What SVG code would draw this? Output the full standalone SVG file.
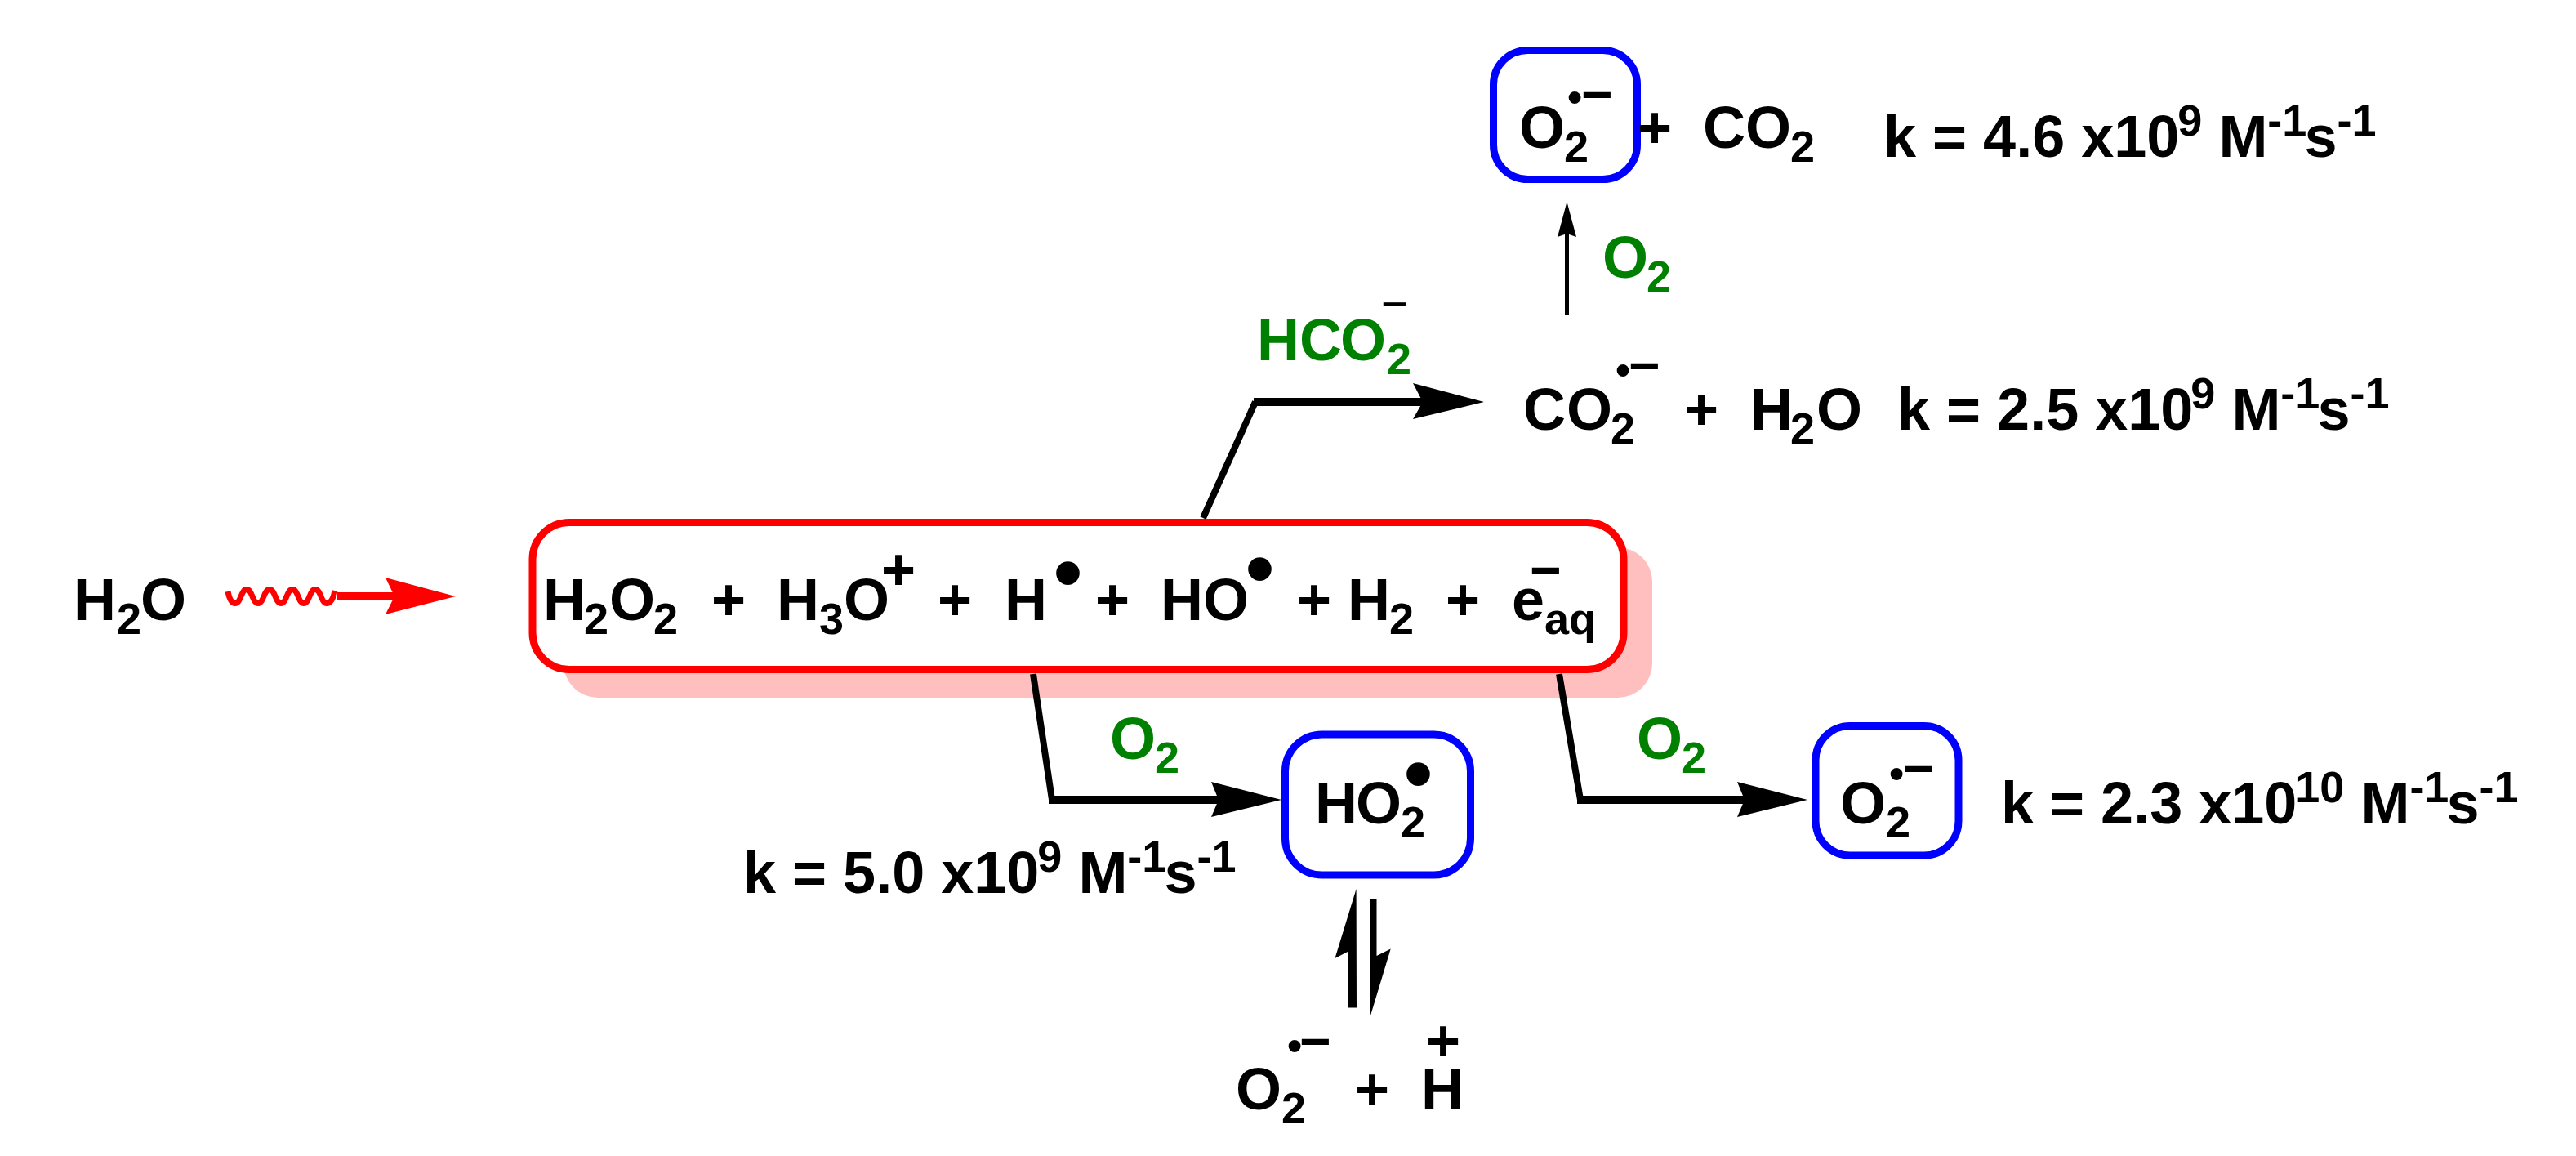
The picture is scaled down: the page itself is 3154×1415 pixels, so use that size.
<svg xmlns="http://www.w3.org/2000/svg" width="3154" height="1415" viewBox="0 0 3154 1415">
<style>
text{font-family:"Liberation Sans",Arial,sans-serif;font-weight:700;font-size:72px;fill:#000}
.s{font-size:54px}
.g{fill:#008000}
.bd{font-size:100px}
.sd{font-size:52px}
.m{font-size:66px}
.blue{fill:#fff;stroke:#00f;stroke-width:9}
.ln{fill:none;stroke:#000;stroke-linejoin:miter}
.hd{fill:#000}
</style>
<rect width="3154" height="1415" fill="#fff"/>
<g id="node-h2o">
<text x="90" y="759">H<tspan class="s" x="143" y="776">2</tspan><tspan x="172" y="759">O</tspan></text>
</g>
<g id="node-products">
<rect x="690" y="670" width="1333" height="184" rx="42" ry="42" fill="#ffbfbf"/>
<rect x="652" y="639.5" width="1336" height="180" rx="45" ry="45" fill="#fff" stroke="#f00" stroke-width="9"/>
<text x="665" y="759">H<tspan class="s" x="715" y="776">2</tspan><tspan x="746" y="759">O</tspan><tspan class="s" x="800" y="776">2</tspan><tspan x="871" y="759">+</tspan><tspan x="951" y="759">H</tspan><tspan class="s" x="1003" y="776">3</tspan><tspan x="1033" y="759">O</tspan><tspan x="1079" y="722">+</tspan><tspan x="1148" y="759">+</tspan><tspan x="1230" y="759">H</tspan><tspan x="1341" y="759">+</tspan><tspan x="1421" y="759">H</tspan><tspan x="1473" y="759">O</tspan><tspan x="1588" y="759">+</tspan><tspan x="1650" y="759">H</tspan><tspan class="s" x="1701" y="776">2</tspan><tspan x="1770" y="759">+</tspan><tspan x="1851" y="759">e</tspan><tspan class="s" x="1891" y="776">aq</tspan></text>
<text class="bd" x="1290" y="735">•</text>
<text class="bd" x="1525" y="730">•</text>
<text class="m" x="1873" y="720">−</text>
</g>
<g id="node-o2-top">
<rect class="blue" x="1828.5" y="61.5" width="176" height="158" rx="42" ry="42"/>
<text x="1860" y="181">O<tspan class="s" x="1915" y="198">2</tspan></text>
<text class="sd" x="1919" y="137">•</text>
<text class="m" x="1936" y="138">−</text>
</g>
<g id="node-co2-top">
<text x="2005" y="181">+</text>
<text x="2085" y="181">C<tspan x="2137">O</tspan><tspan class="s" x="2192" y="198">2</tspan></text>
<text x="2306" y="192">k = 4.6 x10<tspan class="s" dx="-2" dy="-26">9</tspan><tspan dy="26"> M</tspan><tspan class="s" dy="-26">-1</tspan><tspan dx="-3" dy="26">s</tspan><tspan class="s" dy="-26">-1</tspan></text>
</g>
<g id="node-co2-radical">
<text x="1865" y="526">C<tspan x="1918">O</tspan><tspan class="s" x="1972" y="543">2</tspan></text>
<text class="sd" x="1978" y="471">•</text>
<text class="m" x="1994" y="470">−</text>
<text x="2062" y="526">+</text>
<text x="2143" y="526">H<tspan class="s" x="2192" y="543">2</tspan><tspan x="2224" y="526">O</tspan></text>
<text x="2323" y="526">k = 2.5 x10<tspan class="s" dx="-3" dy="-26">9</tspan><tspan dy="26"> M</tspan><tspan class="s" dy="-26">-1</tspan><tspan dx="-3" dy="26">s</tspan><tspan class="s" dy="-26">-1</tspan></text>
</g>
<g id="node-ho2">
<rect class="blue" x="1573.5" y="899" width="227" height="172" rx="45" ry="45"/>
<text x="1610" y="1008">H<tspan x="1660">O</tspan><tspan class="s" x="1715" y="1025">2</tspan></text>
<text class="bd" x="1719" y="981">•</text>
<text x="910" y="1093">k = 5.0 x10<tspan class="s" dx="-2" dy="-26">9</tspan><tspan dy="26"> M</tspan><tspan class="s" dy="-26">-1</tspan><tspan dx="-3" dy="26">s</tspan><tspan class="s" dy="-26">-1</tspan></text>
</g>
<g id="node-o2-right">
<rect class="blue" x="2223" y="888.5" width="175" height="158.5" rx="42" ry="42"/>
<text x="2253" y="1008">O<tspan class="s" x="2309" y="1025">2</tspan></text>
<text class="sd" x="2313" y="965">•</text>
<text class="m" x="2330" y="963">−</text>
<text x="2450" y="1008">k = 2.3 x10<tspan class="s" dx="-2" dy="-26">10</tspan><tspan dy="26"> M</tspan><tspan class="s" dy="-26">-1</tspan><tspan dx="-3" dy="26">s</tspan><tspan class="s" dy="-26">-1</tspan></text>
</g>
<g id="node-o2-h">
<text x="1513" y="1358">O<tspan class="s" x="1569" y="1375">2</tspan></text>
<text class="sd" x="1576" y="1298">•</text>
<text class="m" x="1591" y="1297">−</text>
<text x="1659" y="1358">+</text>
<text x="1740" y="1358">H</text>
<text x="1746" y="1299">+</text>
</g>
<g id="labels">
<text class="g" x="1539" y="441">H<tspan x="1591">C</tspan><tspan x="1641">O</tspan><tspan class="s" x="1698" y="458">2</tspan></text>
<text x="1691" y="391" style="font-size:56px;font-weight:400">−</text>
<text class="g" x="1962" y="340">O<tspan class="s" x="2016" y="357">2</tspan></text>
<text class="g" x="1359" y="929">O<tspan class="s" x="1414" y="946">2</tspan></text>
<text class="g" x="2004" y="929">O<tspan class="s" x="2059" y="946">2</tspan></text>
</g>
<g id="connectors">
<path d="M279 724C281 734 284 738.500 288 738.500C295 738.500 295 721.500 302 721.500C309 721.500 309 738.500 316 738.500C323 738.500 323 721.500 330 721.500C337 721.500 337 738.500 344 738.500C351 738.500 351 721.500 358 721.500C365 721.500 365 738.500 372 738.500C379 738.500 379 721.500 386 721.500C393 721.500 393 738.500 400 738.500C405 738.500 408 733 410 723" fill="none" stroke="#f00" stroke-width="7"/>
<path d="M413 730H490" fill="none" stroke="#f00" stroke-width="10"/>
<polygon points="558,730 472,707 483,730 472,752" fill="#f00"/>
<path class="ln" d="M1473 634L1537 492" style="stroke-width:8"/>
<path class="ln" d="M1535 492H1745" style="stroke-width:10"/>
<polygon class="hd" points="1817,492 1730,469 1742,492 1730,513"/>
<path class="ln" d="M1918.500 386V280" style="stroke-width:5"/>
<polygon class="hd" points="1918.500,247 1907,290 1918.500,286 1930,290"/>
<path class="ln" d="M1265 825L1288 979" style="stroke-width:8"/>
<path class="ln" d="M1284 979H1500" style="stroke-width:10"/>
<polygon class="hd" points="1569,979 1483,957 1492,979 1483,1000"/>
<path class="ln" d="M1909 825L1935 979" style="stroke-width:8"/>
<path class="ln" d="M1931 979H2145" style="stroke-width:10"/>
<polygon class="hd" points="2213,979 2127,957 2136,979 2127,1000"/>
<polygon class="hd" points="1660.600,1088 1661,1233.600 1650,1233.600 1650,1165 1634.500,1173"/>
<polygon class="hd" points="1677,1101 1685.500,1101 1685.500,1170 1702.700,1161.600 1677,1246.600"/>
</g>
</svg>
